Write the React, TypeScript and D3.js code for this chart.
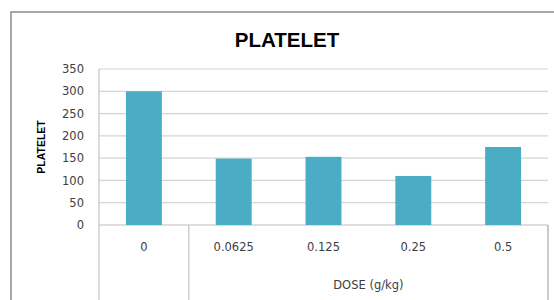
import React from 'react';
import * as d3 from 'd3';

const doses = ['0', '0.0625', '0.125', '0.25', '0.5'];
const platelet = [300, 149, 153, 110, 175];
const yTicks = [0, 50, 100, 150, 200, 250, 300, 350];
const groupLabel = 'DOSE (g/kg)';
const groupMembers = ['0.0625', '0.125', '0.25', '0.5'];
const chartTitle = 'PLATELET';
const yTitle = 'PLATELET';

const W = 554, H = 300;
const plot = { left: 99, right: 548, top: 69, bottom: 225 };
const font = '"DejaVu Sans", "Open Sans", sans-serif';

export default function App() {
  const x = d3.scaleBand<string>()
    .domain(doses)
    .range([plot.left, plot.right])
    .paddingInner(0.6)
    .paddingOuter(0.3);
  const y = d3.scaleLinear().domain([0, 350]).range([plot.bottom, plot.top]);

  const gap = (x.step() - x.bandwidth()) / 2;
  const groupStart = x(groupMembers[0])! - gap;
  const groupEnd = x(groupMembers[groupMembers.length - 1])! + x.bandwidth() + gap;

  return (
    <svg width={W} height={H} style={{ position: 'absolute', left: 0, top: 0, background: '#fff' }}>
      {/* chart border, right and bottom edges fall outside the picture */}
      <rect x={11} y={12} width={600} height={320} fill="#fff" stroke="#8c8c8c" strokeWidth={1.5} />

      <text x={287} y={47} textAnchor="middle" fontFamily='"Liberation Sans", Arial, sans-serif'
        fontWeight="bold" fontSize={20.5} fill="#000">{chartTitle}</text>

      {/* gridlines + y ticks */}
      {yTicks.map(t => (
        <g key={t}>
          <line x1={plot.left} x2={plot.right} y1={y(t)} y2={y(t)}
            stroke={t === 0 ? '#bdbdbd' : '#d4d4d4'} strokeWidth={1.2} />
          <text x={84} y={y(t)} dy="0.36em" textAnchor="end" fontFamily={font}
            fontSize={11.5} fill="#404040">{t}</text>
        </g>
      ))}

      <line x1={plot.left} x2={plot.left} y1={plot.top} y2={H} stroke="#c4c4c4" strokeWidth={1.2} />

      {/* bars */}
      {doses.map((d, i) => (
        <rect key={d} x={x(d)} y={y(platelet[i])} width={x.bandwidth()}
          height={y(0) - y(platelet[i])} fill="#4BACC6" />
      ))}

      {/* multi-level category axis */}
      <line x1={groupStart} x2={groupStart} y1={plot.bottom} y2={H} stroke="#c4c4c4" strokeWidth={1.2} />
      <line x1={groupEnd} x2={groupEnd} y1={plot.bottom} y2={H} stroke="#a6a6a6" strokeWidth={1.2} />
      {doses.map(d => (
        <text key={d} x={x(d)! + x.bandwidth() / 2} y={251} textAnchor="middle"
          fontFamily={font} fontSize={11.5} fill="#404040">{d}</text>
      ))}
      <text x={(groupStart + groupEnd) / 2} y={288.5} textAnchor="middle" fontFamily={font}
        fontSize={11.5} fill="#404040">{groupLabel}</text>

      <text transform={`translate(45,147) rotate(-90)`} textAnchor="middle"
        fontFamily='"Liberation Sans", Arial, sans-serif' fontWeight="bold" fontSize={10.5} fill="#000">{yTitle}</text>
    </svg>
  );
}
